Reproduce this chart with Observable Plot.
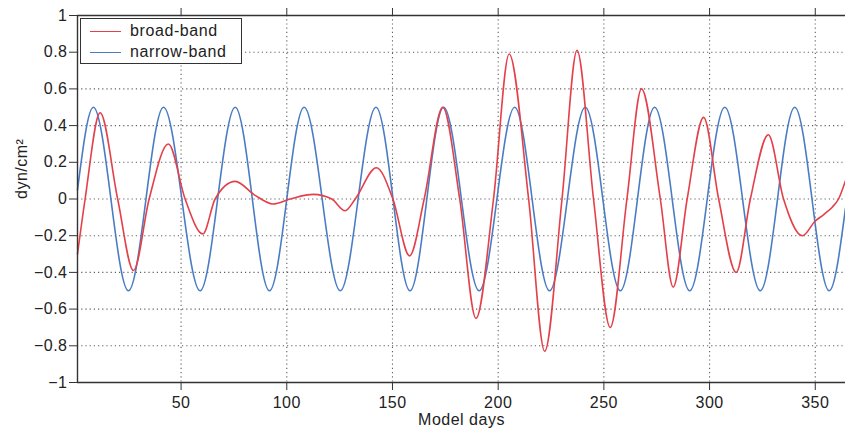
<!DOCTYPE html>
<html>
<head>
<meta charset="utf-8">
<script src="https://cdn.jsdelivr.net/npm/d3@7"></script>
<script src="https://cdn.jsdelivr.net/npm/@observablehq/plot@0.6"></script>
<style>
  html, body { margin: 0; padding: 0; background: #fff; }
  #wrap { position: relative; width: 845px; height: 433px; overflow: hidden; font-family: "Liberation Sans", Arial, Helvetica, sans-serif; }
  #wrap svg text { letter-spacing: 0.5px; }
  #legend { position: absolute; left: 80px; top: 18px; width: 162px; height: 46px; border: 1px solid #333; background: #fff; box-sizing: border-box; }
  .item { position: absolute; left: 0; height: 20px; font-size: 16px; color: #222; letter-spacing: 0.6px; }
  .item .sw { position: absolute; left: 9px; width: 31px; height: 0; border-top: 1.5px solid; }
  .item span { position: absolute; left: 49px; white-space: nowrap; line-height: 18px; }
</style>
</head>
<body>
<div id="wrap"></div>
<script>
// ---- data ----
const seriesNames = ["broad-band", "narrow-band"];
const seriesColors = ["#e4404a", "#4a7cc4"];

const narrowDays   = [1, 8.5, 25.1, 41.7, 59, 75.6, 91.8, 108.2, 125.3, 142.2, 158.3, 174.2, 191, 207.8, 224.3, 241.2, 257.8, 274, 290.6, 307.2, 324, 340.3, 356.6, 364.3];
const narrowValues = [0.05, 0.5, -0.5, 0.5, -0.5, 0.5, -0.5, 0.5, -0.5, 0.5, -0.5, 0.5, -0.5, 0.5, -0.5, 0.5, -0.5, 0.5, -0.5, 0.5, -0.5, 0.5, -0.5, -0.05];

const broadDays   = [1, 4.6, 11.7, 20, 27.5, 34.9, 44, 51.9, 60.3, 66.1, 75.6, 85, 93.5, 101.6, 112.6, 121.3, 127.6, 132.4, 142.4, 150.2, 158.1, 165, 173.8, 181.8, 189.5, 197.8, 205.2, 214.4, 222, 230.2, 237.3, 245.1, 253, 260.9, 267.8, 276.7, 282.8, 289.4, 297.2, 304.3, 312.6, 319.3, 327.8, 335, 343.9, 350, 354, 358, 361, 364.3];
const broadValues = [-0.30, 0, 0.47, 0, -0.39, 0, 0.30, 0, -0.19, 0, 0.096, 0.02, -0.027, 0, 0.025, 0, -0.064, 0, 0.17, 0, -0.31, 0, 0.50, 0, -0.65, 0, 0.79, 0, -0.83, 0, 0.81, 0, -0.70, 0, 0.60, 0, -0.48, 0, 0.445, 0, -0.40, 0, 0.35, 0, -0.20, -0.12, -0.085, -0.045, 0.0, 0.10];

const xTicks = [50, 100, 150, 200, 250, 300, 350];
const yTicks = [-1, -0.8, -0.6, -0.4, -0.2, 0, 0.2, 0.4, 0.6, 0.8, 1];
const yGrid  = [-0.8, -0.6, -0.4, -0.2, 0, 0.2, 0.4, 0.6, 0.8];
const xDomain = [1, 364.3];
const yDomain = [-1, 1];
const xLabel = "Model days";
const yLabel = "dyn/cm²";

// ---- build tables ----
const broad = broadDays.map((d, i) => ({day: d, value: broadValues[i]}));
const narrow = narrowDays.map((d, i) => ({day: d, value: narrowValues[i]}));

const gridStyle = {stroke: "#444", strokeOpacity: 0.85, strokeDasharray: "1.2,3", strokeWidth: 1.1};
const fmtY = d => (d < 0 ? "\u2212" : "") + String(Math.abs(d));

const chart = Plot.plot({
  width: 845,
  height: 433,
  marginLeft: 77,
  marginRight: 0,
  marginTop: 15,
  marginBottom: 51,
  style: {fontSize: "16px", fontFamily: "'Liberation Sans', Arial, Helvetica, sans-serif", color: "#222", background: "#fff"},
  x: {domain: xDomain},
  y: {domain: yDomain},
  marks: [
    Plot.gridX(xTicks, gridStyle),
    Plot.gridY(yGrid, gridStyle),
    Plot.line(narrow, {x: "day", y: "value", stroke: seriesColors[1], strokeWidth: 1.6, curve: "monotone-x"}),
    Plot.line(broad, {x: "day", y: "value", stroke: seriesColors[0], strokeWidth: 1.6, curve: "monotone-x"}),
    Plot.ruleY(yDomain, {stroke: "#333", strokeWidth: 1.4}),
    Plot.ruleX([xDomain[0]], {stroke: "#333", strokeWidth: 1.4}),
    Plot.axisX(xTicks, {anchor: "bottom", tickSize: 8, tickPadding: 6, label: null, stroke: "#333", fontSize: 16}),
    Plot.axisX(xTicks, {anchor: "top", tickSize: 8, tickFormat: () => "", label: null, stroke: "#333"}),
    Plot.axisY(yTicks, {anchor: "left", tickSize: 8, tickPadding: 2, label: null, stroke: "#333", tickFormat: fmtY, fontSize: 16}),
    Plot.text([xLabel], {frameAnchor: "bottom", dy: 42, fontSize: 16, fill: "#222"}),
    Plot.text([yLabel], {frameAnchor: "left", dx: -56, rotate: -90, fontSize: 16, fill: "#222"})
  ]
});

const wrap = document.getElementById("wrap");
wrap.appendChild(chart);

const legend = document.createElement("div");
legend.id = "legend";
seriesNames.forEach((name, i) => {
  const it = document.createElement("div");
  it.className = "item";
  it.style.top = (i === 0 ? 3 : 24) + "px";
  const sw = document.createElement("div");
  sw.className = "sw";
  sw.style.top = "9px";
  sw.style.borderTopColor = seriesColors[i];
  const tx = document.createElement("span");
  tx.textContent = name;
  tx.style.top = "0px";
  it.appendChild(sw);
  it.appendChild(tx);
  legend.appendChild(it);
});
wrap.appendChild(legend);
</script>
</body>
</html>
